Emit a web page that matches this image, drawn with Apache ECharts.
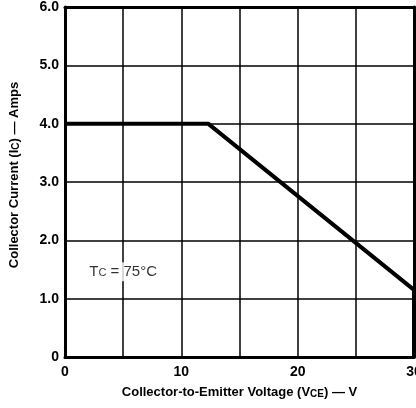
<!DOCTYPE html>
<html><head><meta charset="utf-8">
<script src="https://cdn.jsdelivr.net/npm/echarts@6/dist/echarts.min.js"></script>
<style>html,body{margin:0;padding:0;background:#fff}#c{width:416px;height:408px}</style>
</head><body><div id="c"></div>
<script>
const xTicks = [0, 10, 20, 30];
const yTicks = [0, 1, 2, 3, 4, 5, 6];
const soaX = [0, 12.3, 30, 30];
const soaY = [4.0, 4.0, 1.15, 0];
const noteX = 5;
const noteY = 1.46;
const noteText = 'T{s|C} = 75°C';

const FONT = '"Liberation Sans Narrow", "Liberation Sans", Arial, sans-serif';
const chart = echarts.init(document.getElementById('c'), null, {renderer: 'canvas'});
const lineData = soaX.map((x, i) => [x, soaY[i]]);
chart.setOption({
  animation: false,
  backgroundColor: '#fff',
  grid: {left: 65, right: 2, top: 7, bottom: 51, containLabel: false, outerBoundsMode: 'none'},
  xAxis: [{
    type: 'value', min: 0, max: 30, interval: 5,
    axisLine: {show: true, onZero: false, lineStyle: {color: '#000', width: 3}},
    axisTick: {show: false},
    splitLine: {show: true, lineStyle: {color: '#000', width: 1.5}},
    axisLabel: {
      color: '#000', fontFamily: FONT, fontSize: 14, fontWeight: 'bold', margin: 8,
      formatter: v => xTicks.includes(v) ? String(v) : ''
    },
    name: 'Collector-to-Emitter Voltage (V{s|CE}) — V',
    nameLocation: 'middle', nameGap: 29,
    nameTextStyle: {color: '#000', fontFamily: FONT, fontSize: 13, fontWeight: 'bold',
      rich: {s: {fontFamily: FONT, fontSize: 10, fontWeight: 'bold', color: '#000', padding: [3, 0, 0, 0]}}}
  }, {
    type: 'value', min: 0, max: 30, interval: 5, position: 'top',
    axisLine: {show: true, onZero: false, lineStyle: {color: '#000', width: 3}},
    axisTick: {show: false}, axisLabel: {show: false}, splitLine: {show: false}
  }],
  yAxis: [{
    type: 'value', min: 0, max: 6, interval: 1,
    axisLine: {show: true, onZero: false, lineStyle: {color: '#000', width: 3}},
    axisTick: {show: false},
    splitLine: {show: true, lineStyle: {color: '#000', width: 1.5}},
    axisLabel: {
      color: '#000', fontFamily: FONT, fontSize: 14, fontWeight: 'bold', margin: 6,
      formatter: v => yTicks.includes(v) ? (v === 0 ? '0' : v.toFixed(1)) : ''
    },
    name: 'Collector Current (I{s|C}) — Amps',
    nameLocation: 'middle', nameGap: 44, nameRotate: 90,
    nameTextStyle: {color: '#000', fontFamily: FONT, fontSize: 13, fontWeight: 'bold',
      padding: [0, 0, 0, 14],
      rich: {s: {fontFamily: FONT, fontSize: 10, fontWeight: 'bold', color: '#000', padding: [3, 0, 0, 0]}}}
  }, {
    type: 'value', min: 0, max: 6, interval: 1, position: 'right',
    axisLine: {show: true, onZero: false, lineStyle: {color: '#000', width: 3}},
    axisTick: {show: false}, axisLabel: {show: false}, splitLine: {show: false}
  }],
  series: [{
    type: 'line', data: lineData, showSymbol: false, symbol: 'none',
    lineStyle: {color: '#000', width: 4}, z: 5
  }, {
    type: 'scatter', data: [[noteX, noteY]], symbolSize: 0, z: 6,
    label: {
      show: true, position: 'inside', formatter: noteText,
      color: '#000', fontFamily: FONT, fontSize: 15, fontWeight: 'normal',
      backgroundColor: '#fff', padding: [2, 3],
      rich: {s: {fontFamily: FONT, fontSize: 11, color: '#000', padding: [3, 0, 0, 0]}}
    }
  }]
});
</script></body></html>
